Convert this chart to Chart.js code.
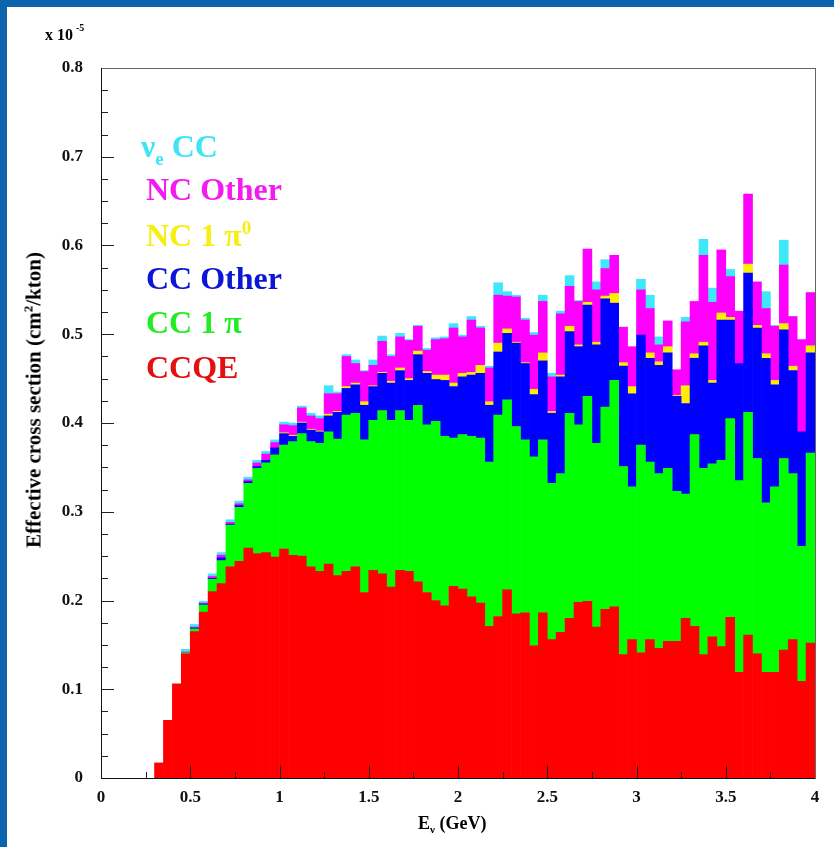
<!DOCTYPE html>
<html>
<head>
<meta charset="utf-8">
<title>Effective cross section</title>
<script src="https://cdn.jsdelivr.net/npm/chart.js@4.4.1/dist/chart.umd.min.js"></script>
<style>
  body { margin: 0; background: #fff; }
  #wrap { position: relative; width: 834px; height: 847px; overflow: hidden; background: #fff;
          font-family: "Liberation Serif", "Times New Roman", serif; font-weight: bold; }
  #myChart { position: absolute; left: 0; top: 0; }
  .band { position: absolute; background: #0c64ac; }
  .txt { position: absolute; white-space: nowrap; line-height: 1; }
  .lg { font-size: 32px; }
  .lg sub { font-size: 19px; vertical-align: -8px; }
  .lg sup { font-size: 19px; vertical-align: 12px; }
</style>
</head>
<body>
<div id="wrap">
  <canvas id="myChart" width="834" height="847"></canvas>
  <div class="band" style="left:0;top:0;width:7px;height:847px"></div>
  <div class="band" style="left:0;top:0;width:834px;height:7px"></div>

  <div class="txt" style="left:45px;top:23px;font-size:16px">x 10<sup style="font-size:10px;vertical-align:9px;margin-left:3px">-5</sup></div>
  <div class="txt" id="ytitle" style="left:33px;top:400px;font-size:21px;transform:translate(-50%,-50%) rotate(-90deg)">Effective cross section (cm<sup style="font-size:13px;vertical-align:8px">2</sup>/kton)</div>
  <div class="txt" style="left:418px;top:814px;font-size:18px">E<sub style="font-size:11px;vertical-align:-4px">&nu;</sub> (GeV)</div>

  <div class="txt lg" style="left:141px;top:130px;color:#3fe4f6">&nu;<sub>e</sub> CC</div>
  <div class="txt lg" style="left:146px;top:173px;color:#f21cf0">NC Other</div>
  <div class="txt lg" style="left:146px;top:218px;color:#f8ee12">NC 1 &pi;<sup>0</sup></div>
  <div class="txt lg" style="left:146px;top:262px;color:#0b16d6">CC Other</div>
  <div class="txt lg" style="left:146px;top:306px;color:#22ec22">CC 1 &pi;</div>
  <div class="txt lg" style="left:146px;top:351px;color:#e41010">CCQE</div>
</div>

<script>
// bin centres of the 0.05 GeV wide energy bins (GeV)
const binCenters = [
  0.025, 0.075, 0.125, 0.175, 0.225, 0.275, 0.325, 0.375, 0.425, 0.475,
  0.525, 0.575, 0.625, 0.675, 0.725, 0.775, 0.825, 0.875, 0.925, 0.975,
  1.025, 1.075, 1.125, 1.175, 1.225, 1.275, 1.325, 1.375, 1.425, 1.475,
  1.525, 1.575, 1.625, 1.675, 1.725, 1.775, 1.825, 1.875, 1.925, 1.975,
  2.025, 2.075, 2.125, 2.175, 2.225, 2.275, 2.325, 2.375, 2.425, 2.475,
  2.525, 2.575, 2.625, 2.675, 2.725, 2.775, 2.825, 2.875, 2.925, 2.975,
  3.025, 3.075, 3.125, 3.175, 3.225, 3.275, 3.325, 3.375, 3.425, 3.475,
  3.525, 3.575, 3.625, 3.675, 3.725, 3.775, 3.825, 3.875, 3.925, 3.975
];

// values in units of 1e-5 cm^2/kton, stacked bottom to top
const ccqe = [
  0, 0, 0, 0, 0, 0, 0.017, 0.065, 0.106, 0.140,
  0.165, 0.187, 0.210, 0.219, 0.238, 0.244, 0.259, 0.253, 0.254, 0.249,
  0.258, 0.251, 0.250, 0.238, 0.233, 0.241, 0.228, 0.233, 0.238, 0.209,
  0.234, 0.230, 0.215, 0.234, 0.233, 0.221, 0.209, 0.200, 0.194, 0.216,
  0.213, 0.204, 0.197, 0.171, 0.182, 0.212, 0.185, 0.186, 0.149, 0.186,
  0.156, 0.164, 0.180, 0.198, 0.199, 0.170, 0.190, 0.193, 0.139, 0.156,
  0.141, 0.156, 0.146, 0.154, 0.154, 0.180, 0.171, 0.139, 0.159, 0.148,
  0.181, 0.119, 0.161, 0.140, 0.119, 0.119, 0.144, 0.156, 0.109, 0.152
];
const cc1pi = [
  0, 0, 0, 0, 0, 0, 0, 0, 0, 0.001,
  0.003, 0.008, 0.014, 0.026, 0.047, 0.061, 0.073, 0.096, 0.101, 0.115,
  0.117, 0.128, 0.138, 0.141, 0.144, 0.149, 0.154, 0.176, 0.173, 0.172,
  0.169, 0.184, 0.188, 0.180, 0.170, 0.199, 0.189, 0.202, 0.191, 0.167,
  0.174, 0.181, 0.186, 0.185, 0.227, 0.214, 0.211, 0.195, 0.213, 0.195,
  0.176, 0.179, 0.231, 0.200, 0.231, 0.207, 0.228, 0.255, 0.212, 0.172,
  0.234, 0.200, 0.197, 0.195, 0.169, 0.140, 0.216, 0.210, 0.195, 0.210,
  0.224, 0.216, 0.251, 0.220, 0.191, 0.209, 0.216, 0.187, 0.152, 0.214
];
const ccOther = [
  0, 0, 0, 0, 0, 0, 0, 0, 0, 0,
  0.001, 0.001, 0.001, 0.003, 0.001, 0.002, 0.002, 0.002, 0.003, 0.008,
  0.013, 0.006, 0.012, 0.013, 0.013, 0.018, 0.030, 0.030, 0.032, 0.039,
  0.038, 0.042, 0.042, 0.045, 0.045, 0.057, 0.058, 0.047, 0.063, 0.058,
  0.065, 0.069, 0.073, 0.064, 0.071, 0.075, 0.094, 0.086, 0.070, 0.089,
  0.079, 0.109, 0.092, 0.088, 0.103, 0.111, 0.122, 0.087, 0.113, 0.105,
  0.124, 0.117, 0.122, 0.130, 0.107, 0.102, 0.086, 0.138, 0.091, 0.158,
  0.111, 0.132, 0.157, 0.147, 0.163, 0.115, 0.145, 0.116, 0.129, 0.113
];
const nc1pi0 = [
  0, 0, 0, 0, 0, 0, 0, 0, 0, 0,
  0, 0, 0, 0, 0, 0, 0, 0, 0, 0,
  0.001, 0.001, 0.001, 0.001, 0.001, 0.002, 0.001, 0.002, 0.002, 0.004,
  0.001, 0.001, 0.002, 0.003, 0.002, 0.004, 0.002, 0.005, 0.006, 0.004,
  0.004, 0.003, 0.009, 0.004, 0.010, 0.005, 0.001, 0.001, 0.006, 0.009,
  0.002, 0.002, 0.006, 0.002, 0.003, 0.003, 0.003, 0.011, 0.004, 0.008,
  0, 0.006, 0.004, 0.007, 0.001, 0.020, 0.005, 0.004, 0.003, 0.008,
  0.003, 0, 0.010, 0.003, 0.005, 0.005, 0.007, 0.005, 0, 0.008
];
const ncOther = [
  0, 0, 0, 0, 0, 0, 0, 0, 0, 0.001,
  0.001, 0.001, 0.002, 0.003, 0.002, 0.002, 0.002, 0.004, 0.007, 0.006,
  0.009, 0.011, 0.016, 0.015, 0.014, 0.023, 0.020, 0.034, 0.022, 0.034,
  0.023, 0.035, 0.028, 0.035, 0.043, 0.028, 0.024, 0.040, 0.041, 0.062,
  0.041, 0.059, 0.042, 0.038, 0.054, 0.037, 0.051, 0.048, 0.061, 0.058,
  0.039, 0.069, 0.045, 0.049, 0.060, 0.059, 0.031, 0.043, 0.040, 0.045,
  0.051, 0.050, 0.019, 0.029, 0.029, 0.072, 0.059, 0.098, 0.088, 0.071,
  0.046, 0.059, 0.079, 0.049, 0.051, 0.061, 0.066, 0.056, 0.104, 0.060
];
const nueCC = [
  0, 0, 0, 0, 0, 0, 0, 0, 0, 0.003,
  0.003, 0.002, 0.003, 0.003, 0.003, 0.003, 0.003, 0.003, 0.003, 0.003,
  0.003, 0.003, 0.002, 0.003, 0.003, 0.009, 0.002, 0.002, 0.004, 0.001,
  0.006, 0.006, 0.002, 0.004, 0.001, 0.001, 0.002, 0.002, 0.002, 0.005,
  0.002, 0.004, 0.002, 0.002, 0.014, 0.005, 0.002, 0.002, 0.003, 0.007,
  0.004, 0.003, 0.012, 0.001, 0, 0.009, 0.010, 0, 0, 0,
  0.012, 0.015, 0.009, 0, 0, 0.005, 0, 0.018, 0.016, 0,
  0.008, 0, 0, 0, 0.019, 0.001, 0.028, 0, 0, 0
];

const seriesNames = ['CCQE', 'CC 1 pi', 'CC Other', 'NC 1 pi0', 'NC Other', 'nue CC'];
const seriesColors = ['#ff0000', '#00ff00', '#0000ff', '#ffee00', '#ff00ff', '#3ee8fa'];

const xTickValues = [0, 0.5, 1, 1.5, 2, 2.5, 3, 3.5, 4];
const xTickLabels = ['0', '0.5', '1', '1.5', '2', '2.5', '3', '3.5', '4'];
const yTickValues = [0, 0.1, 0.2, 0.3, 0.4, 0.5, 0.6, 0.7, 0.8];
const yTickLabels = ['0', '0.1', '0.2', '0.3', '0.4', '0.5', '0.6', '0.7', '0.8'];

const toPoints = arr => arr.map((v, i) => ({x: binCenters[i], y: v > 0 ? v : null}));
const allSeries = [ccqe, cc1pi, ccOther, nc1pi0, ncOther, nueCC];

const datasets = allSeries.map((arr, k) => ({
  label: seriesNames[k],
  data: toPoints(arr),
  backgroundColor: seriesColors[k],
  borderWidth: 0,
  barPercentage: 1,
  categoryPercentage: 1
}));

// ROOT style frame with inward tick marks
const frameTicks = {
  id: 'frameTicks',
  afterDatasetsDraw(chart) {
    const {ctx, chartArea: a, scales: {x, y}} = chart;
    ctx.save();
    ctx.strokeStyle = '#222';
    ctx.lineWidth = 1;
    ctx.beginPath();
    for (let i = 0; i <= 32; i++) {
      const py = Math.round(y.getPixelForValue(i * 0.025)) + 0.5;
      ctx.moveTo(a.left, py);
      ctx.lineTo(a.left + (i % 4 === 0 ? 13 : 7), py);
    }
    for (let i = 0; i <= 16; i++) {
      const px = Math.round(x.getPixelForValue(i * 0.25)) + 0.5;
      ctx.moveTo(px, a.bottom);
      ctx.lineTo(px, a.bottom - (i % 2 === 0 ? 13 : 6));
    }
    ctx.stroke();
    ctx.strokeStyle = '#666';
    ctx.strokeRect(a.left + 0.5, a.top + 0.5, a.right - a.left, a.bottom - a.top);
    ctx.strokeStyle = '#111';
    ctx.beginPath();
    ctx.moveTo(a.left + 0.5, a.top);
    ctx.lineTo(a.left + 0.5, a.bottom + 0.5);
    ctx.lineTo(a.right, a.bottom + 0.5);
    ctx.stroke();
    ctx.restore();
  }
};

const tickFont = {family: '"Liberation Serif", "Times New Roman", serif', size: 17, weight: 'bold'};

const myChart = document.getElementById('myChart');
const histChart = new Chart(myChart, {
  type: 'bar',
  data: {datasets: datasets},
  options: {
    responsive: false,
    animation: false,
    layout: {padding: {top: 68, right: 19, left: 0, bottom: 0}},
    plugins: {legend: {display: false}, tooltip: {enabled: false}},
    scales: {
      x: {
        type: 'linear', min: 0, max: 4, stacked: true, offset: false,
        grid: {display: false, drawTicks: false},
        border: {display: false},
        afterBuildTicks: s => { s.ticks = xTickValues.map(v => ({value: v})); },
        ticks: {
          padding: 9, color: '#111', font: tickFont, maxRotation: 0, autoSkip: false,
          callback: (v, i) => xTickLabels[i]
        },
        afterFit: s => { s.height = 69; }
      },
      y: {
        min: 0, max: 0.8, stacked: true,
        grid: {display: false, drawTicks: false},
        border: {display: false},
        afterBuildTicks: s => { s.ticks = yTickValues.map(v => ({value: v})); },
        ticks: {
          padding: 18, color: '#111', font: tickFont,
          callback: (v, i) => yTickLabels[i]
        },
        afterFit: s => { s.width = 101; }
      }
    }
  },
  plugins: [frameTicks]
});
</script>
</body>
</html>
